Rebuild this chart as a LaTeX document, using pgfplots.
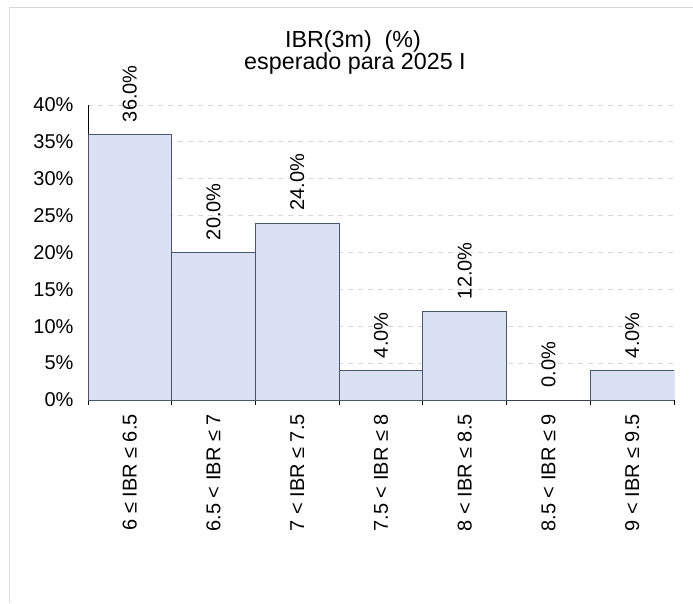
\documentclass[border=0pt]{standalone}
\usepackage{pgfplots}
\pgfplotsset{compat=1.18}
\usepackage{fontspec}
\setmainfont{Liberation Sans}
\definecolor{barfill}{HTML}{D9E1F2}
\definecolor{baredge}{HTML}{485670}
\definecolor{gridc}{HTML}{D9D9D9}
\definecolor{framec}{HTML}{D9D9D9}
\begin{document}
\begin{tikzpicture}
\useasboundingbox (0pt,0pt) rectangle (693pt,603pt);
\draw[framec, line width=1pt] (9pt,0pt) -- (9pt,595pt) -- (693pt,595pt);
\node[anchor=base, font=\fontsize{23.3}{27}\selectfont] at (353pt,555pt) {IBR(3m)\ \ (\%)};
\node[anchor=base, font=\fontsize{23.3}{27}\selectfont] at (355pt,533pt) {esperado para 2025 I};
\begin{axis}[
  at={(88pt,203pt)}, anchor=south west,
  scale only axis, width=586pt, height=295pt,
  xmin=0, xmax=7, ymin=0, ymax=40,
  axis x line*=bottom, axis y line*=left,
  axis line style={black, line width=1pt},
  /pgf/number format/assume math mode=true,
  font=\fontsize{20}{24}\selectfont,
  ytick={0,5,...,40},
  yticklabel={\pgfmathprintnumber{\tick}\%},
  ytick style={draw=none},
  yticklabel style={xshift=-11pt},
  ymajorgrids,
  grid style={gridc, dash pattern=on 5pt off 5pt, line width=1pt},
  xtick={0,1,2,3,4,5,6},
  xticklabels={{6 ≤ IBR ≤ 6.5},{6.5 < IBR ≤ 7},{7 < IBR ≤ 7.5},{7.5 < IBR ≤ 8},{8 < IBR ≤ 8.5},{8.5 < IBR ≤ 9},{9 < IBR ≤ 9.5}},
  xticklabel style={rotate=90, anchor=east, inner sep=0pt, xshift=-9pt, yshift=-41.857pt},
  xtick style={draw=black, line width=1pt},
  xtick align=outside,
  major tick length=5pt,
  extra x ticks={7},
  extra x tick labels={},
  ybar, bar width=1,
  nodes near coords={\pgfmathprintnumber[fixed,fixed zerofill,precision=1]{\pgfplotspointmeta}\%},
  nodes near coords style={rotate=90, anchor=west, inner ysep=0pt, inner xsep=12pt, font=\fontsize{20}{24}\selectfont, black},
]
\addplot[fill=barfill, draw=baredge, line width=1pt] coordinates {
  (0.5,36) (1.5,20) (2.5,24) (3.5,4) (4.5,12) (5.5,0) (6.5,4)
};
\end{axis}
\end{tikzpicture}
\end{document}
